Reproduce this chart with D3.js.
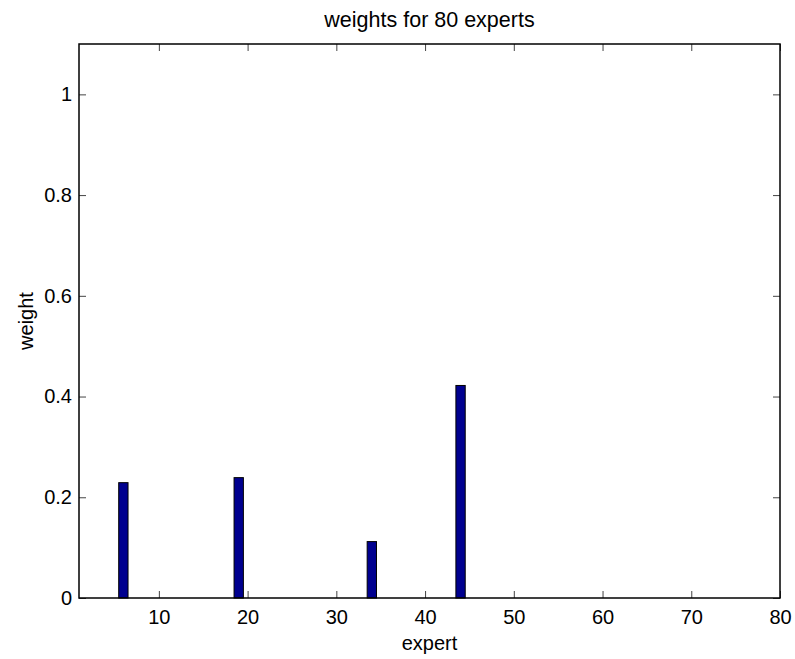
<!DOCTYPE html>
<html>
<head>
<meta charset="utf-8">
<script src="https://cdn.jsdelivr.net/npm/d3@7"></script>
<style>
  html, body { margin: 0; padding: 0; background: #fff; }
  text { font-family: "Liberation Sans", Arial, sans-serif; fill: #000; }
</style>
</head>
<body>
<svg id="chart" width="795" height="659"></svg>
<script>
// Expert weights (only non-zero experts listed; the rest are 0)
const experts = [6, 19, 34, 44];
const weights = [0.229, 0.239, 0.112, 0.422];
const xTicks = [10, 20, 30, 40, 50, 60, 70, 80];
const yTicks = [0, 0.2, 0.4, 0.6, 0.8, 1];
const xDomain = [1, 80];
const yDomain = [0, 1.1];
const barWidth = 1.05;

const svg = d3.select("#chart");
const m = { left: 79, right: 780, top: 44, bottom: 598 };

const x = d3.scaleLinear().domain(xDomain).range([m.left, m.right]);
const y = d3.scaleLinear().domain(yDomain).range([m.bottom, m.top]);

const data = experts.map((e, i) => ({ e, w: weights[i] }));

// bars
svg.append("g").selectAll("rect").data(data).join("rect")
  .attr("x", d => x(d.e - barWidth / 2))
  .attr("width", d => x(d.e + barWidth / 2) - x(d.e - barWidth / 2))
  .attr("y", d => y(d.w))
  .attr("height", d => y(0) - y(d.w))
  .attr("fill", "#00008f")
  .attr("stroke", "#000")
  .attr("stroke-width", 1);

const tickLen = 7;
const font = "20px";

// bottom axis, ticks pointing inward
const xb = svg.append("g").attr("transform", `translate(0,${m.bottom})`)
  .call(d3.axisBottom(x).tickValues(xTicks).tickSize(-tickLen).tickPadding(12).tickFormat(d3.format("d")));
// top axis, ticks only
const xt = svg.append("g").attr("transform", `translate(0,${m.top})`)
  .call(d3.axisTop(x).tickValues(xTicks).tickSize(-tickLen).tickFormat(""));
// left axis
const yl = svg.append("g").attr("transform", `translate(${m.left},0)`)
  .call(d3.axisLeft(y).tickValues(yTicks).tickSize(-tickLen).tickPadding(7).tickFormat(d => d3.format("")(+d.toFixed(1))));
// right axis, ticks only
const yr = svg.append("g").attr("transform", `translate(${m.right},0)`)
  .call(d3.axisRight(y).tickValues(yTicks).tickSize(-tickLen).tickFormat(""));

[xb, xt, yl, yr].forEach(g => {
  g.select(".domain").remove();
  g.selectAll(".tick line").attr("stroke", "#444").attr("stroke-width", 1);
  g.selectAll(".tick text").style("font-size", font).attr("fill", "#000")
    .style("font-family", "'Liberation Sans', Arial, sans-serif");
});

// frame
svg.append("rect")
  .attr("x", m.left).attr("y", m.top)
  .attr("width", m.right - m.left).attr("height", m.bottom - m.top)
  .attr("fill", "none").attr("stroke", "#000").attr("stroke-width", 1.5);

// title and axis labels
svg.append("text").attr("x", (m.left + m.right) / 2).attr("y", 27)
  .attr("text-anchor", "middle").style("font-size", "21.5px").text("weights for 80 experts");
svg.append("text").attr("x", (m.left + m.right) / 2).attr("y", 650)
  .attr("text-anchor", "middle").style("font-size", font).text("expert");
svg.append("text").attr("transform", `translate(33,${(m.top + m.bottom) / 2}) rotate(-90)`)
  .attr("text-anchor", "middle").style("font-size", font).text("weight");
</script>
</body>
</html>
